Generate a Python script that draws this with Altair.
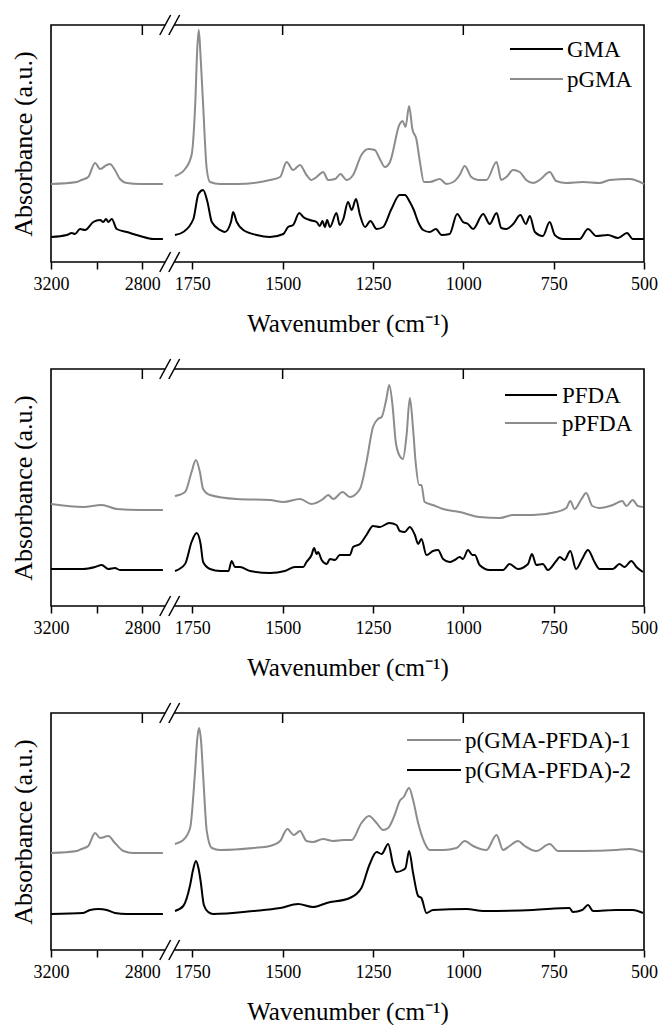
import altair as alt
import pandas as pd

FONT = "Liberation Serif"
BLACK = "#000000"
GREY = "#8c8c8c"

# ---------------- spectra: wavenumber (cm-1) / absorbance (a.u.) ----------------
# Panel 1
GMA_WN = [3200, 3131, 3109, 3095, 3073, 3051, 3015, 2985, 2971, 2959, 2949, 2934, 2912, 2868, 2810, 2752, 2710,
          1798, 1775, 1747, 1733, 1720, 1708, 1696, 1673, 1660, 1643, 1637, 1627, 1609, 1572, 1535, 1498, 1485,
          1471, 1454, 1443, 1425, 1406, 1397, 1390, 1383, 1377, 1369, 1351, 1342, 1332, 1319, 1309, 1297, 1286,
          1272, 1257, 1240, 1222, 1199, 1176, 1162, 1148, 1137, 1125, 1111, 1093, 1076, 1060, 1038, 1017, 1001,
          987, 973, 945, 927, 908, 895, 881, 862, 842, 827, 816, 802, 780, 761, 747, 724, 678, 655, 632, 600,
          572, 547, 531, 500]
GMA_ABS = [25, 27, 29, 28, 33, 32, 40, 42, 40, 43, 40, 43, 33, 30, 26, 23, 23,
           27, 30, 43, 68, 72, 60, 40, 32, 30, 40, 50, 40, 32, 27, 25, 28, 35,
           37, 49, 45, 42, 40, 36, 41, 35, 42, 35, 49, 37, 43, 60, 52, 63, 47,
           35, 41, 33, 35, 53, 67, 67, 60, 52, 40, 32, 30, 33, 27, 28, 48, 40,
           38, 33, 48, 38, 49, 34, 33, 38, 47, 38, 46, 30, 26, 40, 27, 23, 23, 33, 26, 27,
           24, 29, 23, 23]

PGMA_WN = [3200, 3087, 3066, 3037, 3007, 2985, 2956, 2942, 2920, 2898, 2868, 2810, 2710,
           1798, 1770, 1752, 1742, 1736, 1732, 1727, 1720, 1710, 1701, 1673, 1627, 1535, 1507, 1489, 1471,
           1452, 1434, 1420, 1406, 1388, 1374, 1355, 1340, 1323, 1305, 1282, 1263, 1245, 1231, 1217, 1203,
           1176, 1168, 1160, 1150, 1141, 1130, 1120, 1109, 1093, 1065, 1047, 1028, 1010, 996, 978, 959, 936,
           908, 895, 881, 862, 844, 826, 807, 789, 761, 743, 715, 669, 623, 595, 540, 500]
PGMA_ABS = [78, 80, 82, 85, 99, 93, 97, 98, 92, 83, 79, 78, 78,
            86, 93, 107, 157, 215, 232, 205, 157, 93, 80, 78, 78, 82, 85, 100, 92,
            97, 87, 82, 85, 90, 82, 83, 88, 82, 87, 107, 113, 112, 103, 95, 100,
            138, 141, 135, 156, 133, 123, 100, 80, 80, 83, 78, 80, 87, 96, 85, 82, 82,
            100, 82, 85, 92, 90, 82, 79, 82, 90, 81, 79, 80, 79, 82, 83, 78]

# Panel 2
PFDA_WN = [3200, 3059, 3007, 2978, 2949, 2920, 2898, 2710,
           1798, 1770, 1752, 1738, 1727, 1720, 1701, 1673, 1650, 1641, 1632, 1618, 1590, 1535, 1494, 1466,
           1443, 1434, 1420, 1413, 1406, 1402, 1392, 1378, 1369, 1355, 1342, 1314, 1305, 1286, 1268, 1250,
           1231, 1205, 1185, 1176, 1162, 1148, 1134, 1125, 1116, 1102, 1084, 1070, 1056, 1038, 1024, 1010,
           1001, 987, 975, 968, 955, 927, 890, 872, 849, 821, 810, 798, 780, 766, 743, 733, 720, 704, 688,
           671, 655, 637, 623, 586, 568, 554, 535, 521, 503]
PFDA_ABS = [37, 37, 39, 41, 37, 38, 36, 36,
            35, 42, 64, 73, 62, 44, 37, 35, 35, 45, 39, 39, 35, 33, 35, 39,
            39, 44, 51, 58, 52, 54, 46, 42, 47, 46, 51, 51, 59, 62, 71, 80,
            79, 83, 81, 75, 74, 79, 71, 62, 67, 51, 55, 56, 47, 44, 46, 49,
            47, 56, 51, 51, 41, 36, 36, 42, 37, 42, 52, 41, 42, 36, 45, 49, 46, 55, 37,
            47, 56, 44, 37, 37, 42, 39, 45, 39, 34]

PPFDA_WN = [3200, 3059, 2978, 2912, 2810, 2710,
            1798, 1770, 1752, 1740, 1729, 1720, 1701, 1627, 1535, 1498, 1452, 1420, 1388, 1374, 1360, 1334,
            1314, 1286, 1268, 1250, 1236, 1226, 1213, 1205, 1196, 1187, 1176, 1167, 1157, 1148, 1139, 1132,
            1122, 1116, 1107, 1084, 1056, 1010, 955, 899, 863, 807, 743, 715, 704, 692, 673, 660, 643, 623,
            586, 560, 549, 531, 517, 503]
PPFDA_ABS = [102, 99, 101, 97, 96, 96,
             110, 114, 134, 146, 134, 117, 111, 107, 106, 104, 107, 102, 107, 111, 107, 114,
             109, 117, 144, 179, 187, 189, 207, 221, 201, 164, 150, 147, 171, 208, 177, 144,
             121, 121, 104, 101, 97, 94, 89, 88, 91, 91, 94, 98, 105, 97, 107, 113, 100, 98,
             101, 105, 100, 106, 100, 99]

# Panel 3
CO1_WN = [3200, 3087, 3066, 3037, 3007, 2985, 2949, 2920, 2883, 2840, 2710,
          1798, 1775, 1756, 1743, 1736, 1731, 1726, 1720, 1710, 1696, 1673, 1581, 1535, 1507, 1487, 1469,
          1452, 1434, 1416, 1388, 1360, 1332, 1309, 1282, 1261, 1240, 1222, 1208, 1190, 1176, 1165, 1150,
          1139, 1125, 1107, 1093, 1056, 1019, 996, 973, 936, 908, 890, 872, 849, 830, 798, 761, 738, 669,
          577, 540, 503]
CO1_ABS = [97, 99, 101, 104, 117, 112, 114, 107, 99, 97, 97,
           106, 110, 122, 175, 212, 222, 210, 175, 119, 102, 100, 102, 104, 109, 121, 115,
           119, 109, 108, 111, 109, 110, 110, 127, 134, 127, 120, 122, 135, 149, 153, 162,
           150, 127, 107, 100, 100, 102, 109, 104, 100, 115, 100, 104, 109, 104, 99, 106, 99, 99,
           100, 101, 98]

CO2_WN = [3200, 3059, 3029, 2992, 2956, 2920, 2868, 2710,
          1798, 1775, 1756, 1748, 1740, 1733, 1727, 1718, 1706, 1692, 1581, 1507, 1457, 1416, 1378, 1314,
          1282, 1260, 1240, 1226, 1208, 1194, 1185, 1167, 1160, 1150, 1139, 1125, 1116, 1102, 1084, 991,
          945, 807, 706, 697, 671, 655, 641, 577, 531, 503]
CO2_ABS = [36, 37, 40, 41, 40, 37, 36, 36,
           39, 44, 65, 80, 89, 82, 69, 45, 38, 36, 39, 42, 46, 43, 47, 52,
           62, 85, 98, 96, 106, 85, 78, 80, 82, 99, 77, 54, 52, 37, 40, 41,
           39, 40, 42, 38, 40, 45, 39, 40, 40, 37]

# ---------------- broken wavenumber axis ----------------
SPLIT = 1800        # right window runs 1800 -> 500 cm-1
HIGH_START = 2700   # left window runs 3200 -> 2700 cm-1
SQUEEZE = 0.632     # left window is drawn at a tighter cm-1 per pixel
GAP = 25            # blank between the two windows, in axis units


def axis_pos(w):
    return w if w <= SPLIT else SPLIT + GAP + (w - HIGH_START) * SQUEEZE


POS_EXPR = f"datum.wn > {SPLIT} ? {SPLIT + GAP} + (datum.wn - {HIGH_START}) * {SQUEEZE} : datum.wn"
SEG_EXPR = f"datum.wn > {SPLIT} ? 'high' : 'low'"
X_SCALE = alt.Scale(domain=[500, axis_pos(3200)], reverse=True, nice=False, zero=False)

BOTTOM_TICKS = [3200, 3000, 2800, 1750, 1500, 1250, 1000, 750, 500]
BOTTOM_LABELS = ["3200", "", "2800", "1750", "1500", "1250", "1000", "750", "500"]
TOP_TICKS = [2800, 1500, 1000]

label_expr = " : ".join(
    f"abs(datum.value - {axis_pos(w)}) < 0.5 ? '{lab}'" for w, lab in zip(BOTTOM_TICKS, BOTTOM_LABELS)
) + " : ''"

X_AXIS = alt.Axis(
    values=[axis_pos(w) for w in BOTTOM_TICKS], labelExpr=label_expr,
    title="Wavenumber (cm⁻¹)", domain=False, grid=False,
    tickSize=7, tickWidth=1.5, tickColor=BLACK,
    labelFontSize=18, labelPadding=6, labelColor=BLACK, labelFlush=False, labelOverlap=False,
    titleFontSize=25, titleFontWeight="normal", titlePadding=18, titleColor=BLACK)

W, H = 593, 237
Y_SCALE = alt.Scale(domain=[0, 237], nice=False, zero=False)


def panel(series, key):
    """series: (name, wavenumbers, absorbances, colour) in key order.
    key: (line start, line end, label start, [row centres]) in plot pixels."""
    rows = []
    for name, wn, ab, _ in series:
        rows += [{"series": name, "wn": w, "absorb": a} for w, a in zip(wn, ab)]
    df = pd.DataFrame(rows)
    names = [s[0] for s in series]
    colors = [s[3] for s in series]

    spectra = alt.Chart(df).transform_calculate(pos=POS_EXPR, seg=SEG_EXPR).mark_line(
        strokeWidth=2, interpolate="monotone"
    ).encode(
        x=alt.X("pos:Q", scale=X_SCALE, axis=X_AXIS),
        y=alt.Y("absorb:Q", scale=Y_SCALE, axis=alt.Axis(
            title="Absorbance (a.u.)", labels=False, ticks=False, domain=False, grid=False,
            titleFontSize=26, titleFontWeight="normal", titlePadding=15, titleColor=BLACK)),
        color=alt.Color("series:N", scale=alt.Scale(domain=names, range=colors), legend=None),
        detail="seg:N",
        order=alt.Order("pos:Q"),
    )

    # white out the frame between the two windows
    gap_df = pd.DataFrame({"pos": [SPLIT], "b": [SPLIT + GAP]})
    masks = [
        alt.Chart(gap_df).mark_rect(fill="white").encode(
            x=alt.X("pos:Q", scale=X_SCALE), x2="b:Q", y=alt.value(y0), y2=alt.value(y1))
        for y0, y1 in [(-3, 3), (H - 3, H + 3)]
    ]

    # "//" break symbols on the top and bottom frame lines
    cross_df = pd.DataFrame({"cross": [SPLIT, SPLIT + GAP]})
    slashes = [
        alt.Chart(cross_df).transform_calculate(
            pos="datum.cross + 15", hi="datum.cross - 15"
        ).mark_rule(color=BLACK, strokeWidth=1.5).encode(
            x=alt.X("pos:Q", scale=X_SCALE), x2="hi:Q", y=alt.value(yl + 10), y2=alt.value(yl - 10))
        for yl in [0, H]
    ]

    # inward ticks along the top frame
    top_df = pd.DataFrame({"wn": TOP_TICKS})
    top_ticks = alt.Chart(top_df).transform_calculate(pos=POS_EXPR).mark_rule(
        color=BLACK, strokeWidth=1.5
    ).encode(x=alt.X("pos:Q", scale=X_SCALE), y=alt.value(0), y2=alt.value(10))

    # key in the upper right corner
    x0, x1, tx, ys = key
    key_layers = []
    for (name, _, _, colour), yc in zip(series, ys):
        lab = pd.DataFrame({"label": [name]})
        key_layers.append(alt.Chart(lab).mark_rule(color=colour, strokeWidth=2).encode(
            x=alt.value(x0), x2=alt.value(x1), y=alt.value(yc)))
        key_layers.append(alt.Chart(lab).mark_text(
            align="left", baseline="alphabetic", font=FONT, fontSize=23, color=BLACK
        ).encode(text="label:N", x=alt.value(tx), y=alt.value(yc + 7.5)))

    return alt.layer(spectra, *masks, *slashes, top_ticks, *key_layers).properties(width=W, height=H)


p1 = panel([("GMA", GMA_WN, GMA_ABS, BLACK), ("pGMA", PGMA_WN, PGMA_ABS, GREY)],
           (459, 512, 516, [24, 54]))
p2 = panel([("PFDA", PFDA_WN, PFDA_ABS, BLACK), ("pPFDA", PPFDA_WN, PPFDA_ABS, GREY)],
           (454, 506, 511, [26, 54]))
p3 = panel([("p(GMA-PFDA)-1", CO1_WN, CO1_ABS, GREY), ("p(GMA-PFDA)-2", CO2_WN, CO2_ABS, BLACK)],
           (356, 410, 414, [27, 57]))

chart = alt.vconcat(p1, p2, p3, spacing=107, bounds="flush").resolve_scale(
    color="independent"
).properties(
    padding={"left": 9, "top": 13, "right": 1, "bottom": 2},
    background="white",
).configure_view(stroke=BLACK, strokeWidth=1.6).configure_axis(
    labelFont=FONT, titleFont=FONT
)

chart.save("out.html", embed_options={"renderer": "svg", "actions": False})
